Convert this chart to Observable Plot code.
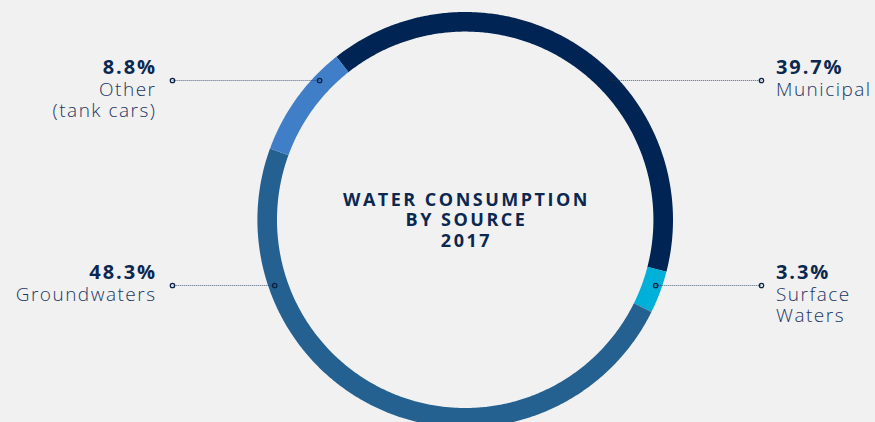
<!DOCTYPE html>
<html><head><meta charset="utf-8">
<script src="https://cdn.jsdelivr.net/npm/d3@7"></script>
<script src="https://cdn.jsdelivr.net/npm/@observablehq/plot@0.6"></script>
<style>html,body{margin:0;padding:0;background:#f1f1f1;} svg{display:block}</style>
</head><body><div id="chart"></div>
<script>
// ---- data ----
const sources = ["Municipal", "Surface Waters", "Groundwaters", "Other (tank cars)"];
const shares = [39.7, 3.3, 48.3, 8.8];
const percentLabels = ["39.7%", "3.3%", "48.3%", "8.8%"];
const nameLabels = [["Municipal"], ["Surface", "Waters"], ["Groundwaters"], ["Other", "(tank cars)"]];
const titleLines = ["WATER CONSUMPTION", "BY SOURCE", "2017"];

// ---- style / layout ----
const colors = ["#002554", "#00b0d8", "#246190", "#417ec8"];
const W = 875, H = 422;
const L = {cx: 464.7, cy: 219.3, rMid: 198, ringWidth: 19.6, rDot: 201.5, start: -38.3,
  leftText: 154.5, leftDot: 172, rightDot: 761, rightText: 775.5,
  pctDy: -6.7, nameDy: 15, nameLH: 21.5, titleY: 205, titleLH: 20.8};
const LS = {pct: 1.9, name: 1.5, title: 2.5};
const labelYs = [80, 285, 285, 80];

const total = d3.sum(shares);
let acc = 0;
const arcPts = [], mids = [];
sources.forEach((s, i) => {
  const a0 = L.start + acc / total * 360; acc += shares[i];
  const a1 = L.start + acc / total * 360;
  mids.push((a0 + a1) / 2);
  const n = Math.ceil((a1 - a0) / 0.5);
  for (let k = 0; k <= n; k++) {
    const a = (a0 + (a1 - a0) * k / n) * Math.PI / 180;
    arcPts.push({source: s, x: L.cx + L.rMid * Math.sin(a), y: L.cy - L.rMid * Math.cos(a)});
  }
});

const rows = sources.map((s, i) => {
  const right = Math.sin(mids[i] * Math.PI / 180) > 0;
  const y = labelYs[i];
  const dx = Math.sqrt(L.rDot * L.rDot - (y - L.cy) ** 2);
  return {source: s, right, y, ringX: L.cx + (right ? dx : -dx),
    endX: right ? L.rightDot : L.leftDot, textX: right ? L.rightText : L.leftText,
    pct: percentLabels[i], names: nameLabels[i]};
});
const dots = rows.flatMap(r => [{x: r.ringX, y: r.y}, {x: r.endX, y: r.y}]);
const nameRows = rows.flatMap(r => r.names.map((t, j) => ({text: t, x: r.textX, right: r.right, y: r.y + L.nameDy + j * L.nameLH})));
const titleRows = titleLines.map((t, j) => ({text: t, y: L.titleY + j * L.titleLH}));

const font = "'Open Sans', 'Noto Sans', sans-serif";
const plot = Plot.plot({
  width: W, height: H, margin: 0,
  x: {domain: [0, W], range: [0, W], axis: null},
  y: {domain: [0, H], range: [0, H], axis: null},
  color: {domain: sources, range: colors},
  style: {background: "#f1f1f1", fontFamily: font},
  marks: [
    Plot.line(arcPts, {x: "x", y: "y", z: "source", stroke: "source", strokeWidth: L.ringWidth, strokeLinecap: "butt", strokeLinejoin: "round"}),
    Plot.link(rows, {x1: "ringX", x2: "endX", y1: "y", y2: "y", stroke: "#1f3560", strokeOpacity: 0.75, strokeWidth: 1, strokeDasharray: "1,1"}),
    Plot.dot(dots, {x: "x", y: "y", r: 2.2, fill: "none", stroke: "#0b2347", strokeWidth: 1.3}),
    Plot.text(rows.filter(r => r.right), {x: "textX", y: d => d.y + L.pctDy, text: "pct", textAnchor: "start", lineAnchor: "bottom", fontSize: 20, fontWeight: 700, fill: "#0b2850", fontFamily: font}),
    Plot.text(rows.filter(r => !r.right), {x: d => d.textX + LS.pct, y: d => d.y + L.pctDy, text: "pct", textAnchor: "end", lineAnchor: "bottom", fontSize: 20, fontWeight: 700, fill: "#0b2850", fontFamily: font}),
    Plot.text(nameRows.filter(r => r.right), {x: "x", y: "y", text: "text", textAnchor: "start", lineAnchor: "bottom", fontSize: 19, fontWeight: 300, fill: "#1a3664", fontFamily: font}),
    Plot.text(nameRows.filter(r => !r.right), {x: d => d.x + LS.name, y: "y", text: "text", textAnchor: "end", lineAnchor: "bottom", fontSize: 19, fontWeight: 300, fill: "#1a3664", fontFamily: font}),
    Plot.text(titleRows, {x: L.cx + LS.title / 2, y: "y", text: "text", textAnchor: "middle", lineAnchor: "bottom", fontSize: 18, fontWeight: 700, fill: "#0b2850", fontFamily: font})
  ]
});
const namesFlat = nameLabels.flat();
d3.select(plot).selectAll("text").each(function () {
  const t = this.textContent;
  let ls = null;
  if (titleLines.includes(t)) ls = LS.title;
  else if (percentLabels.includes(t)) ls = LS.pct;
  else if (namesFlat.includes(t)) ls = LS.name;
  if (ls != null) this.setAttribute("letter-spacing", ls + "px");
});
document.getElementById("chart").append(plot);
</script>
</body></html>
